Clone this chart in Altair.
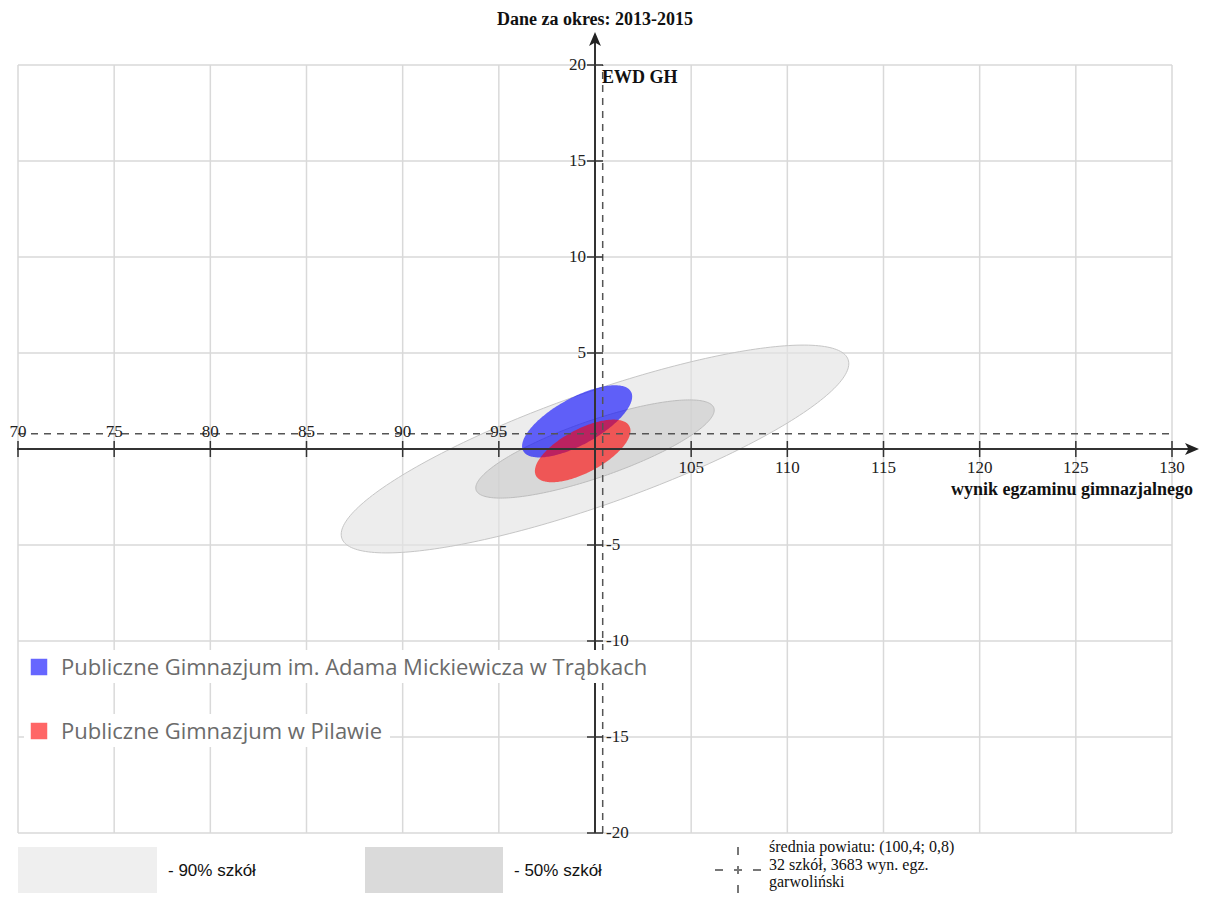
import altair as alt
import numpy as np
import pandas as pd

# ---------------- data ----------------
x_grid = [70, 75, 80, 85, 90, 95, 100, 105, 110, 115, 120, 125, 130]
y_grid = [-20, -15, -10, -5, 0, 5, 10, 15, 20]
x_tick_marks = [70, 75, 80, 85, 90, 95, 105, 110, 115, 120, 125, 130]
y_tick_marks = [-20, -15, -10, -5, 5, 10, 15, 20]
x_labels_above = [70, 75, 80, 85, 90, 95]
x_labels_below = [105, 110, 115, 120, 125, 130]
y_labels_left = [5, 10, 15, 20]
y_labels_right = [-5, -10, -15, -20]

mean_x = 100.4
mean_y = 0.8

ellipse_names = ["90% szkół", "50% szkół",
                 "Publiczne Gimnazjum im. Adama Mickiewicza w Trąbkach",
                 "Publiczne Gimnazjum w Pilawie"]
ellipse_cx = [100.0, 100.0, 99.07, 99.36]
ellipse_cy = [0.0, 0.0, 1.44, -0.10]
ellipse_a = [13.96, 6.54, 3.20, 2.75]
ellipse_b = [2.92, 1.48, 1.22, 1.13]
ellipse_angle = [19.5, 19.1, 28.9, 28.0]

school_names = ellipse_names[2:]
school_colors = ["#6666ff", "#ff6666"]

title_text = "Dane za okres: 2013-2015"
y_title = "EWD GH"
x_title = "wynik egzaminu gimnazjalnego"
band_labels = ["- 90% szkół", "- 50% szkół"]
mean_lines = ["średnia powiatu: (100,4; 0,8)", "32 szkół, 3683 wyn. egz.", "garwoliński"]

# ---------------- styles ----------------
SERIF = "Liberation Serif"
SANS = "Open Sans"
ell_style = {
    ellipse_names[0]: dict(fill="#e4e4e4", fillOpacity=0.65, stroke="#c6c6c6", strokeWidth=1),
    ellipse_names[1]: dict(fill="#c9c9c9", fillOpacity=0.6, stroke="#bdbdbd", strokeWidth=1),
    ellipse_names[2]: dict(fill="#0000ff", fillOpacity=0.6, stroke="#0000ff", strokeWidth=0, strokeOpacity=0),
    ellipse_names[3]: dict(fill="#ff0000", fillOpacity=0.6, stroke="#ff0000", strokeWidth=0, strokeOpacity=0),
}

xs = alt.Scale(domain=[70, 130], range=[10, 1164], nice=False, zero=False)
ys = alt.Scale(domain=[-20, 20], range=[825, 57], nice=False, zero=False)


def X(f):
    return alt.X(f, type="quantitative", scale=xs, axis=None)


def Y(f):
    return alt.Y(f, type="quantitative", scale=ys, axis=None)


layers = []

# grid
gv = pd.DataFrame({"x": x_grid, "y0": [y_grid[0]] * len(x_grid), "y1": [y_grid[-1]] * len(x_grid)})
gh = pd.DataFrame({"y": y_grid, "x0": [x_grid[0]] * len(y_grid), "x1": [x_grid[-1]] * len(y_grid)})
layers.append(alt.Chart(gv).mark_rule(color="#d9d9d9", strokeWidth=1.5).encode(x=X("x"), y=Y("y0"), y2="y1"))
layers.append(alt.Chart(gh).mark_rule(color="#d9d9d9", strokeWidth=1.5).encode(y=Y("y"), x=X("x0"), x2="x1"))

# ellipses
t = np.linspace(0, 2 * np.pi, 241)
for name, cx, cy, a, b, ang in zip(ellipse_names, ellipse_cx, ellipse_cy, ellipse_a, ellipse_b, ellipse_angle):
    th = np.radians(ang)
    ex = cx + a * np.cos(t) * np.cos(th) - b * np.sin(t) * np.sin(th)
    ey = cy + a * np.cos(t) * np.sin(th) + b * np.sin(t) * np.cos(th)
    df = pd.DataFrame({"x": ex, "y": ey, "i": np.arange(len(t))})
    layers.append(
        alt.Chart(df).mark_line(**ell_style[name]).encode(x=X("x"), y=Y("y"), order=alt.Order("i:Q"))
    )

# mean dashed lines
mh = pd.DataFrame({"y": [mean_y], "x0": [x_grid[0]], "x1": [x_grid[-1]]})
mv = pd.DataFrame({"x": [mean_x], "y0": [y_grid[0]], "y1": [y_grid[-1]]})
layers.append(alt.Chart(mh).mark_rule(color="#555555", strokeWidth=1.5, strokeDash=[7, 6]).encode(y=Y("y"), x=X("x0"), x2="x1"))
layers.append(alt.Chart(mv).mark_rule(color="#555555", strokeWidth=1.5, strokeDash=[7, 6]).encode(x=X("x"), y=Y("y0"), y2="y1"))

# axes
ax_h = pd.DataFrame({"y": [0], "x0": [69.95], "x1": [131.0]})
ax_v = pd.DataFrame({"x": [100], "y0": [-20], "y1": [21.3]})
layers.append(alt.Chart(ax_h).mark_rule(color="#333333", strokeWidth=2).encode(y=Y("y"), x=X("x0"), x2="x1"))
layers.append(alt.Chart(ax_v).mark_rule(color="#333333", strokeWidth=2).encode(x=X("x"), y=Y("y0"), y2="y1"))

arrow_r = "M 1 0 L -1 -0.85 L -0.5 0 L -1 0.85 Z"
arrow_u = "M 0 -1 L 0.85 1 L 0 0.5 L -0.85 1 Z"
layers.append(alt.Chart(pd.DataFrame({"x": [131.04], "y": [0]})).mark_point(
    shape=arrow_r, filled=True, size=196, color="#222222", opacity=1).encode(x=X("x"), y=Y("y")))
layers.append(alt.Chart(pd.DataFrame({"x": [100], "y": [21.35]})).mark_point(
    shape=arrow_u, filled=True, size=196, color="#222222", opacity=1).encode(x=X("x"), y=Y("y")))

# ticks
txd = pd.DataFrame({"x": x_tick_marks, "y": [0] * len(x_tick_marks)})
tyd = pd.DataFrame({"y": y_tick_marks, "x": [100] * len(y_tick_marks)})
layers.append(alt.Chart(txd).mark_tick(orient="vertical", size=16, thickness=1.5, color="#333333", opacity=1).encode(x=X("x"), y=Y("y")))
layers.append(alt.Chart(tyd).mark_tick(orient="horizontal", size=16, thickness=1.5, color="#333333", opacity=1).encode(x=X("x"), y=Y("y")))


# tick labels
def lab_df(vals, axis):
    if axis == "x":
        return pd.DataFrame({"x": vals, "y": [0] * len(vals), "t": [str(v) for v in vals]})
    return pd.DataFrame({"y": vals, "x": [100] * len(vals), "t": [str(v) for v in vals]})


tick_font = dict(font=SERIF, fontSize=17, color="#222222")
layers.append(alt.Chart(lab_df(x_labels_above, "x")).mark_text(align="center", baseline="alphabetic", dy=-12, **tick_font)
              .encode(x=X("x"), y=Y("y"), text="t:N"))
layers.append(alt.Chart(lab_df(x_labels_below, "x")).mark_text(align="center", baseline="alphabetic", dy=24, **tick_font)
              .encode(x=X("x"), y=Y("y"), text="t:N"))
layers.append(alt.Chart(lab_df(y_labels_left, "y")).mark_text(align="right", baseline="middle", dx=-9, **tick_font)
              .encode(x=X("x"), y=Y("y"), text="t:N"))
layers.append(alt.Chart(lab_df(y_labels_right, "y")).mark_text(align="left", baseline="middle", dx=11, **tick_font)
              .encode(x=X("x"), y=Y("y"), text="t:N"))


def text_layer(txt, px, py, **kw):
    return alt.Chart(pd.DataFrame({"t": [txt]})).mark_text(**kw).encode(
        x=alt.value(px), y=alt.value(py), text="t:N")


# titles
bold = dict(font=SERIF, fontSize=18, fontWeight="bold", color="#111111", baseline="alphabetic")
layers.append(text_layer(title_text, 587, 17, align="center", **bold))
layers.append(text_layer(y_title, 594, 75, align="left", **bold))
layers.append(text_layer(x_title, 1185, 487, align="right", **bold))

# school legend (each row on a white box)
row_box_right = [648, 382]
for k, (nm, col) in enumerate(zip(school_names, school_colors)):
    yy = 659 + 64 * k
    layers.append(alt.Chart(pd.DataFrame({"t": [nm]})).mark_rect(color="#ffffff", opacity=1).encode(
        x=alt.value(16), x2=alt.value(row_box_right[k]), y=alt.value(yy - 17), y2=alt.value(yy + 16)))
    layers.append(alt.Chart(pd.DataFrame({"t": [nm]})).mark_square(size=272, color=col, opacity=1).encode(
        x=alt.value(31), y=alt.value(yy)))
    layers.append(text_layer(nm, 53, yy + 8, font=SANS, fontSize=22, color="#6b6b6b",
                             align="left", baseline="alphabetic"))

# band legend
band_colors = ["#efefef", "#dadada"]
band_x = [(10, 149), (357, 495)]
for (x0, x1), col, lab in zip(band_x, band_colors, band_labels):
    layers.append(alt.Chart(pd.DataFrame({"t": [lab]})).mark_rect(color=col, opacity=1).encode(
        x=alt.value(x0), x2=alt.value(x1), y=alt.value(839), y2=alt.value(885)))
    layers.append(text_layer(lab, x1 + 11, 868, font="Liberation Sans Narrow, Liberation Sans, sans-serif",
                             fontSize=17, color="#111111", align="left", baseline="alphabetic"))

# mean legend
layers.append(alt.Chart(pd.DataFrame({"t": ["v"]})).mark_rule(color="#777777", strokeWidth=2, strokeDash=[8, 11]).encode(
    x=alt.value(730), y=alt.value(839), y2=alt.value(885)))
layers.append(alt.Chart(pd.DataFrame({"t": ["h"]})).mark_rule(color="#777777", strokeWidth=2, strokeDash=[8, 11]).encode(
    y=alt.value(862), x=alt.value(707), x2=alt.value(755)))
for k, line in enumerate(mean_lines):
    layers.append(text_layer(line, 761, 844 + 17.5 * k, font=SERIF, fontSize=16, color="#111111",
                             align="left", baseline="alphabetic"))

chart = alt.layer(*layers).properties(
    width=1192, height=885, padding=0,
    autosize=alt.AutoSizeParams(type="none"),
).configure_view(strokeWidth=0)

chart.save("out.html", embed_options={"renderer": "svg", "actions": False})
